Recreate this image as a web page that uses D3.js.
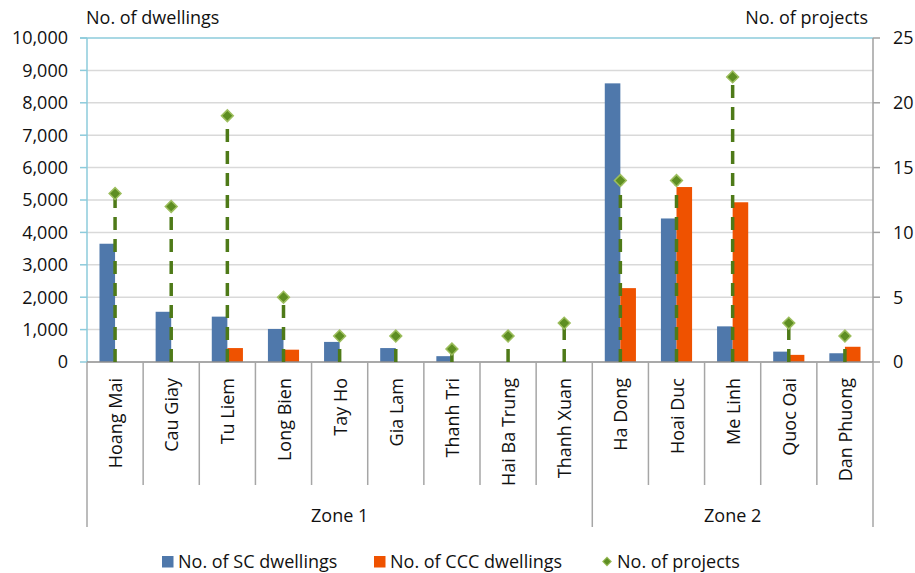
<!DOCTYPE html>
<html>
<head>
<meta charset="utf-8">
<script src="https://cdn.jsdelivr.net/npm/d3@7/dist/d3.min.js"></script>
<style>
  html, body { margin: 0; padding: 0; background: #fff; }
  svg { display: block; font-family: "Open Sans", sans-serif; }
  text { fill: #111; }
</style>
</head>
<body>
<svg id="chart" width="915" height="573"></svg>
<script>
// Districts, grouped into two zones
const districts = ["Hoang Mai", "Cau Giay", "Tu Liem", "Long Bien", "Tay Ho", "Gia Lam", "Thanh Tri",
  "Hai Ba Trung", "Thanh Xuan", "Ha Dong", "Hoai Duc", "Me Linh", "Quoc Oai", "Dan Phuong"];
const zones = ["Zone 1", "Zone 2"];
const zoneSizes = [9, 5];

// Series
const scDwellings  = [3650, 1550, 1400, 1020, 620, 430, 180, 0, 0, 8600, 4430, 1100, 320, 270];
const cccDwellings = [0, 0, 430, 380, 0, 0, 0, 0, 0, 2280, 5400, 4930, 220, 470];
const projects     = [13, 12, 19, 5, 2, 2, 1, 2, 3, 14, 14, 22, 3, 2];

// Axis ticks
const dwellingTicks = d3.range(0, 10001, 1000);
const projectTicks = [0, 5, 10, 15, 20, 25];

const seriesNames = ["No. of SC dwellings", "No. of CCC dwellings", "No. of projects"];
const colors = { sc: "#4F78AB", ccc: "#EF5200", dropLine: "#4E7A18", marker: "#5E8E22", markerEdge: "#9DBE5E" };

const svg = d3.select("#chart");
const plotLeft = 87, plotRight = 873, plotTop = 38, plotBottom = 362;

const x = d3.scaleBand().domain(districts).range([plotLeft, plotRight]).paddingInner(0.445).paddingOuter(0.2225);
const xSub = d3.scaleBand().domain(["sc", "ccc"]).range([0, x.bandwidth()]);
const yL = d3.scaleLinear().domain([0, 10000]).range([plotBottom, plotTop]);
const yR = d3.scaleLinear().domain([0, 25]).range([plotBottom, plotTop]);
const step = x.step();
const center = d => x(d) + x.bandwidth() / 2;

// Horizontal gridlines
svg.append("g").selectAll("line")
  .data(dwellingTicks.filter(v => v > 0 && v < 10000))
  .join("line")
  .attr("x1", plotLeft).attr("x2", plotRight)
  .attr("y1", d => yL(d)).attr("y2", d => yL(d))
  .attr("stroke", "#D9D9D9").attr("stroke-width", 1.5);

// Top border line
svg.append("line")
  .attr("x1", plotLeft - 7).attr("x2", plotRight)
  .attr("y1", yL(10000)).attr("y2", yL(10000))
  .attr("stroke", "#8DCBDB").attr("stroke-width", 1.5);

// Left axis
const leftAxis = svg.append("g");
leftAxis.append("line")
  .attr("x1", plotLeft).attr("x2", plotLeft).attr("y1", plotTop).attr("y2", plotBottom)
  .attr("stroke", "#8DCBDB").attr("stroke-width", 1.5);
leftAxis.selectAll("line.tick").data(dwellingTicks).join("line").attr("class", "tick")
  .attr("x1", plotLeft - 7).attr("x2", plotLeft)
  .attr("y1", d => yL(d)).attr("y2", d => yL(d))
  .attr("stroke", "#8DCBDB").attr("stroke-width", 1.5);
leftAxis.selectAll("text").data(dwellingTicks).join("text")
  .attr("x", 68).attr("y", d => yL(d)).attr("dy", "0.36em")
  .attr("text-anchor", "end").attr("font-size", 18)
  .text(d3.format(","));

// Right axis
const rightAxis = svg.append("g");
rightAxis.append("line")
  .attr("x1", plotRight).attr("x2", plotRight).attr("y1", plotTop).attr("y2", plotBottom)
  .attr("stroke", "#A0A0A0").attr("stroke-width", 1.5);
rightAxis.selectAll("line.tick").data(projectTicks).join("line").attr("class", "tick")
  .attr("x1", plotRight).attr("x2", plotRight + 7)
  .attr("y1", d => yR(d)).attr("y2", d => yR(d))
  .attr("stroke", "#A0A0A0").attr("stroke-width", 1.5);
rightAxis.selectAll("text").data(projectTicks).join("text")
  .attr("x", 893).attr("y", d => yR(d)).attr("dy", "0.36em")
  .attr("text-anchor", "start").attr("font-size", 18)
  .text(d => d);

// Axis titles
svg.append("text").attr("x", 86).attr("y", 24).attr("font-size", 18).text("No. of dwellings");
svg.append("text").attr("x", 868).attr("y", 24).attr("font-size", 18).attr("text-anchor", "end").text("No. of projects");

// Bars
const rows = districts.map((d, i) => ({ d, sc: scDwellings[i], ccc: cccDwellings[i], p: projects[i] }));
const barW = xSub.bandwidth();
svg.append("g").selectAll("rect").data(rows.filter(r => r.sc > 0)).join("rect")
  .attr("x", r => x(r.d) + xSub("sc")).attr("width", barW)
  .attr("y", r => yL(r.sc)).attr("height", r => yL(0) - yL(r.sc))
  .attr("fill", colors.sc);
svg.append("g").selectAll("rect").data(rows.filter(r => r.ccc > 0)).join("rect")
  .attr("x", r => x(r.d) + xSub("ccc")).attr("width", barW)
  .attr("y", r => yL(r.ccc)).attr("height", r => yL(0) - yL(r.ccc))
  .attr("fill", colors.ccc);

// Category axis line
svg.append("line")
  .attr("x1", plotLeft).attr("x2", plotRight).attr("y1", plotBottom).attr("y2", plotBottom)
  .attr("stroke", "#8C8C8C").attr("stroke-width", 1.5);

// Drop lines from each project marker down to the axis
svg.append("g").selectAll("line").data(rows).join("line")
  .attr("x1", r => center(r.d)).attr("x2", r => center(r.d))
  .attr("y1", yR(0)).attr("y2", r => yR(r.p))
  .attr("stroke", colors.dropLine).attr("stroke-width", 3.5)
  .attr("stroke-dasharray", "13,9");

// Project markers (diamonds)
const diamond = d3.symbol().type(d3.symbolSquare).size(70);
svg.append("g").selectAll("path").data(rows).join("path")
  .attr("d", diamond)
  .attr("transform", r => `translate(${center(r.d)},${yR(r.p)}) rotate(45)`)
  .attr("fill", colors.marker).attr("stroke", colors.markerEdge).attr("stroke-width", 1.5);

// Category dividers and labels
const boundaries = d3.range(districts.length + 1).map(i => plotLeft + i * step);
const zoneEdges = [0, zoneSizes[0], zoneSizes[0] + zoneSizes[1]];
svg.append("g").selectAll("line").data(boundaries.map((b, i) => ({ b, i }))).join("line")
  .attr("x1", o => o.b).attr("x2", o => o.b)
  .attr("y1", plotBottom).attr("y2", o => zoneEdges.includes(o.i) ? 527 : 485)
  .attr("stroke", "#A6A6A6").attr("stroke-width", 1.5);

svg.append("g").selectAll("text").data(districts).join("text")
  .attr("transform", d => `translate(${center(d) + 7},378) rotate(-90)`)
  .attr("text-anchor", "end").attr("font-size", 18)
  .text(d => d);

// Zone labels
svg.append("g").selectAll("text").data(zones).join("text")
  .attr("x", (z, i) => (boundaries[zoneEdges[i]] + boundaries[zoneEdges[i + 1]]) / 2)
  .attr("y", 522).attr("text-anchor", "middle").attr("font-size", 18)
  .text(d => d);

// Legend
const legend = svg.append("g").attr("font-size", 18);
const legendItems = [
  { name: seriesNames[0], kind: "rect", color: colors.sc, x: 162 },
  { name: seriesNames[1], kind: "rect", color: colors.ccc, x: 374 },
  { name: seriesNames[2], kind: "diamond", color: colors.marker, x: 602 }
];
legendItems.forEach(it => {
  if (it.kind === "rect") {
    legend.append("rect").attr("x", it.x).attr("y", 556).attr("width", 11.5).attr("height", 11.5).attr("fill", it.color);
    legend.append("text").attr("x", it.x + 16).attr("y", 568).text(it.name);
  } else {
    legend.append("path").attr("d", d3.symbol().type(d3.symbolSquare).size(36))
      .attr("transform", `translate(${it.x + 5},561.5) rotate(45)`)
      .attr("fill", it.color).attr("stroke", colors.markerEdge).attr("stroke-width", 1);
    legend.append("text").attr("x", it.x + 15).attr("y", 568).text(it.name);
  }
});
</script>
</body>
</html>
